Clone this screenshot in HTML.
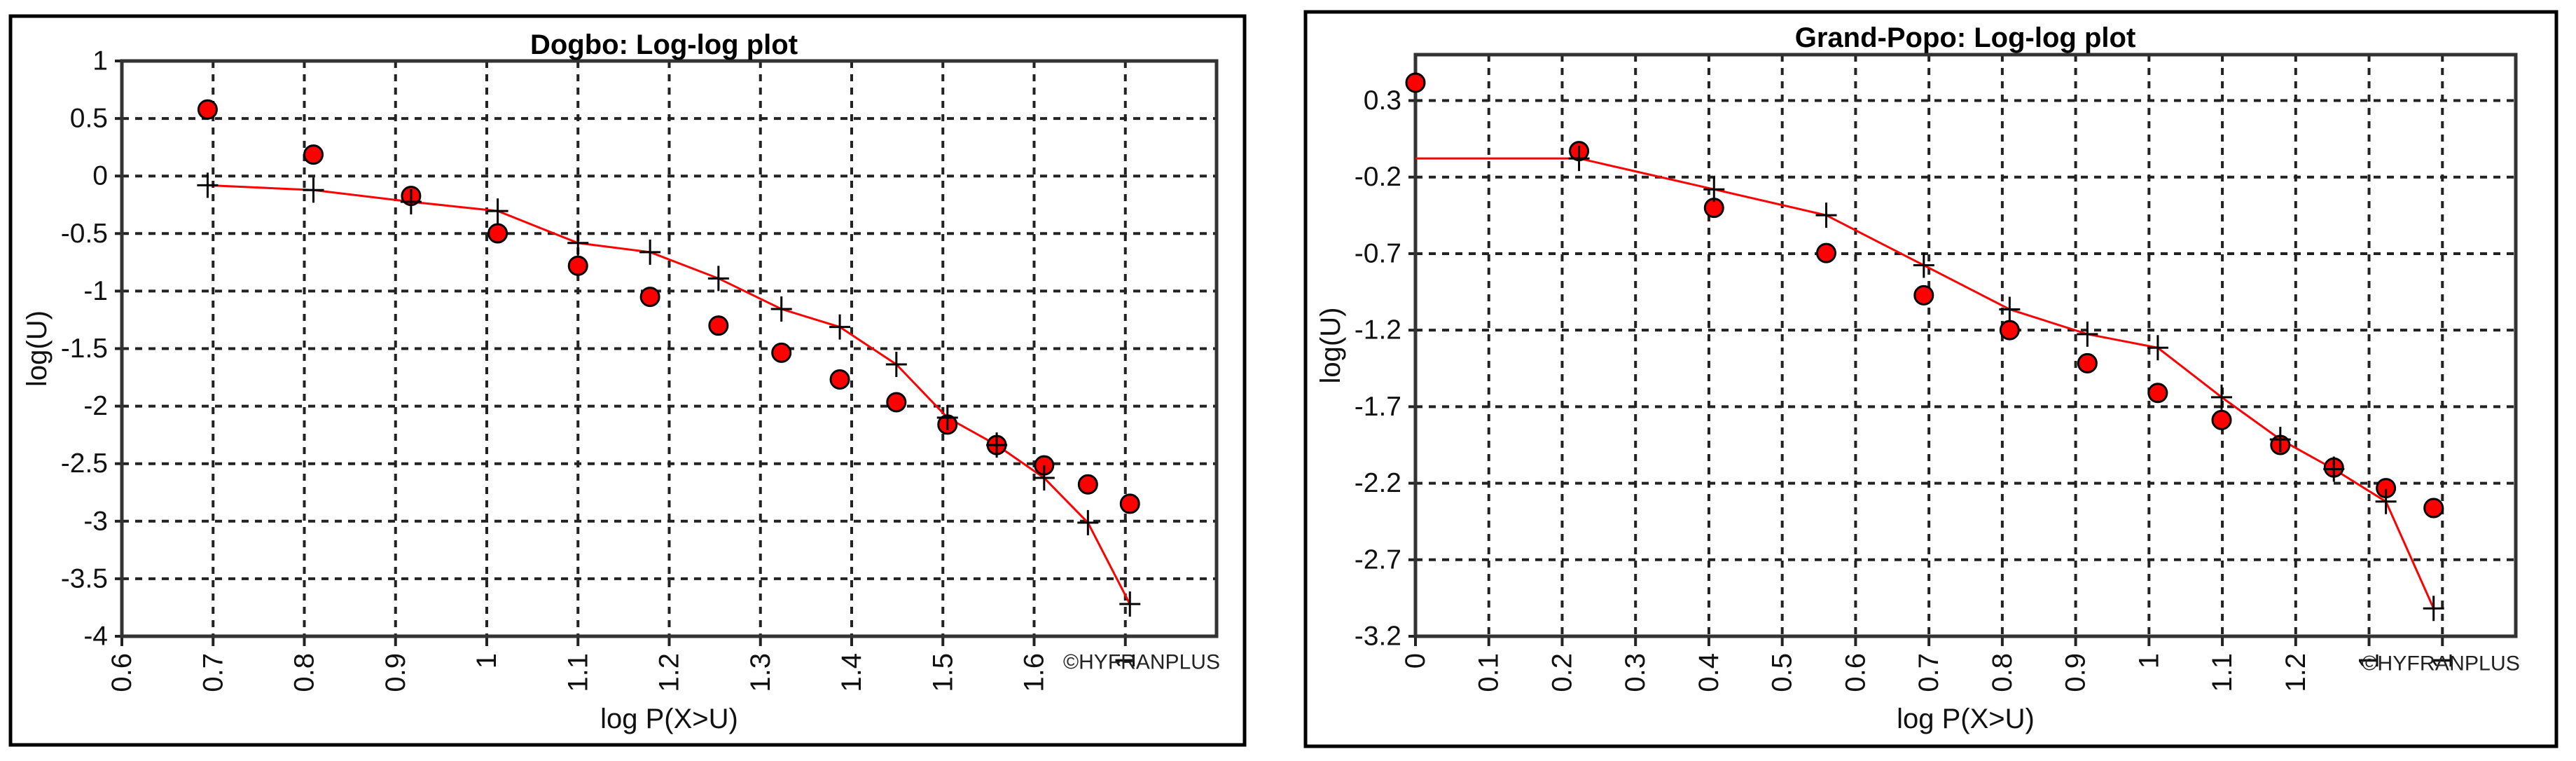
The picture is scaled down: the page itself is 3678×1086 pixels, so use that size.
<!DOCTYPE html>
<html><head><meta charset="utf-8"><style>
html,body{margin:0;padding:0;background:#fff;}
svg{display:block;font-family:"Liberation Sans",Arial,sans-serif;}
</style></head><body>
<svg id="svg" width="3678" height="1086" viewBox="0 0 3678 1086" xmlns="http://www.w3.org/2000/svg"></svg>
<script>
// Dogbo data
const dogboX = [0.694,0.81,0.917,1.012,1.1,1.179,1.254,1.323,1.387,1.449,1.505,1.559,1.611,1.659,1.705];
const dogboObs = [0.578,0.186,-0.173,-0.498,-0.78,-1.05,-1.30,-1.536,-1.768,-1.966,-2.16,-2.338,-2.515,-2.68,-2.848];
const dogboFit = [-0.08,-0.122,-0.224,-0.304,-0.582,-0.662,-0.89,-1.156,-1.312,-1.637,-2.10,-2.338,-2.624,-3.013,-3.72];
const dogboXTicks = [0.6,0.7,0.8,0.9,1.0,1.1,1.2,1.3,1.4,1.5,1.6,1.7];
const dogboXLabels = ["0.6","0.7","0.8","0.9","1","1.1","1.2","1.3","1.4","1.5","1.6","1"];
const dogboYTicks = [1,0.5,0,-0.5,-1,-1.5,-2,-2.5,-3,-3.5,-4];
const dogboYLabels = ["1","0.5","0","-0.5","-1","-1.5","-2","-2.5","-3","-3.5","-4"];
// Grand-Popo data
const popoX = [0,0.223,0.407,0.560,0.693,0.810,0.916,1.012,1.099,1.179,1.252,1.323,1.388];
const popoObs = [0.417,-0.03,-0.401,-0.696,-0.972,-1.20,-1.416,-1.61,-1.787,-1.95,-2.098,-2.232,-2.362];
const popoFit = [-0.078,-0.078,-0.28,-0.449,-0.776,-1.064,-1.226,-1.315,-1.638,-1.914,-2.108,-2.32,-3.018];
const popoXTicks = [0,0.1,0.2,0.3,0.4,0.5,0.6,0.7,0.8,0.9,1.0,1.1,1.2,1.3,1.4];
const popoXLabels = ["0","0.1","0.2","0.3","0.4","0.5","0.6","0.7","0.8","0.9","1","1.1","1.2","1","1"];
const popoYTicks = [0.3,-0.2,-0.7,-1.2,-1.7,-2.2,-2.7,-3.2];
const popoYLabels = ["0.3","-0.2","-0.7","-1.2","-1.7","-2.2","-2.7","-3.2"];

const NS="http://www.w3.org/2000/svg";
const svg=document.getElementById('svg');
function mk(tag,attrs,parent){const e=document.createElementNS(NS,tag);for(const k in attrs)e.setAttribute(k,attrs[k]);(parent||svg).appendChild(e);return e;}

function chart(cfg){
  const g=mk('g',{});
  
  
  const fr=mk('rect',{x:cfg.frame[0],y:cfg.frame[1],width:cfg.frame[2]-cfg.frame[0],height:cfg.frame[3]-cfg.frame[1],fill:'#fff',stroke:'#000','stroke-width':5},g);
  
  
  const [L,T,R,B]=cfg.plot;
  const sx=v=>L+(v-cfg.xd[0])/(cfg.xd[1]-cfg.xd[0])*(R-L);
  const sy=v=>T+(cfg.yd[1]-v)/(cfg.yd[1]-cfg.yd[0])*(B-T);
  cfg.xt.forEach((v,i)=>{
    const x=sx(v);
    if(Math.abs(x-L)>3){
      const gl=mk('line',{x1:x,y1:T,x2:x,y2:B,stroke:'#222','stroke-width':4,'stroke-dasharray':'10 9'},g);
      
      
    }
    mk('line',{x1:x,y1:B,x2:x,y2:B+14,stroke:'#222','stroke-width':4},g);
    const t=mk('text',{x:0,y:0,transform:`translate(${x},${B+24}) rotate(-90)`,'text-anchor':'end','dominant-baseline':'central','font-size':40,fill:'#111'},g);
    t.textContent=cfg.xl[i];
    
    
  });
  cfg.yt.forEach((v,i)=>{
    const y=sy(v);
    if(Math.abs(y-T)>3&&Math.abs(y-B)>3){
      const gl=mk('line',{x1:L,y1:y,x2:R,y2:y,stroke:'#222','stroke-width':4,'stroke-dasharray':'10 9'},g);
      
      
    }
    mk('line',{x1:L-10,y1:y,x2:L,y2:y,stroke:'#222','stroke-width':4},g);
    const t=mk('text',{x:L-20,y:y,'text-anchor':'end','dominant-baseline':'central','font-size':39,fill:'#111'},g);
    t.textContent=cfg.yl[i];
    
    
  });
  const pa=mk('rect',{x:L,y:T,width:R-L,height:B-T,fill:'none',stroke:'#333','stroke-width':5},g);
  
  
  const pts=cfg.x.map((v,i)=>sx(v)+','+sy(cfg.fit[i])).join(' ');
  const pl=mk('polyline',{points:pts,fill:'none',stroke:'#ff0000','stroke-width':3},g);
  
  
  cfg.x.forEach((v,i)=>{
    const c=mk('circle',{cx:sx(v),cy:sy(cfg.obs[i]),r:13,fill:'#ff0000',stroke:'#000','stroke-width':3},g);
    
    
  });
  cfg.x.forEach((v,i)=>{
    if(cfg.skipFirstCross&&i===0)return;
    const x=sx(v),y=sy(cfg.fit[i]);
    const p=mk('path',{d:`M${x-15},${y}H${x+15}M${x},${y-18}V${y+18}`,stroke:'#000','stroke-width':3,fill:'none'},g);
    
    
  });
  const tt=mk('text',{x:cfg.titleX,y:cfg.titleY,'text-anchor':'middle','dominant-baseline':'central','font-size':40,'font-weight':'bold',fill:'#000'},g);
  tt.textContent=cfg.title;
  
  
  const xt=mk('text',{x:(L+R)/2,y:1026,'text-anchor':'middle','dominant-baseline':'central','font-size':40,fill:'#111'},g);
  xt.textContent='log P(X>U)';
  
  
  const yt=mk('text',{x:0,y:0,transform:`translate(${cfg.yTitleX},${(T+B)/2}) rotate(-90)`,'text-anchor':'middle','dominant-baseline':'central','font-size':40,fill:'#111'},g);
  yt.textContent='log(U)';
  
  
  const wm=mk('text',{x:cfg.wm[0],y:cfg.wm[1],'text-anchor':'start','dominant-baseline':'central','font-size':30,fill:'#222',textLength:cfg.wm[2]-cfg.wm[0],lengthAdjust:'spacingAndGlyphs'},g);
  wm.textContent='©HYFRANPLUS';
  
  
}

chart({name:'dogbo-chart',frame:[15,23,1777,1063],plot:[174,87,1737,908],xd:[0.6,1.8],yd:[-4,1],
  x:dogboX,obs:dogboObs,fit:dogboFit,xt:dogboXTicks,xl:dogboXLabels,yt:dogboYTicks,yl:dogboYLabels,
  title:'Dogbo: Log-log plot',titleX:948,titleY:64,yTitleX:53,wm:[1518,945,1742]});
chart({name:'grand-popo-chart',frame:[1864,17,3650,1065],plot:[2021,78,3592,908],xd:[0,1.5],yd:[-3.2,0.6],
  x:popoX,obs:popoObs,fit:popoFit,xt:popoXTicks,xl:popoXLabels,yt:popoYTicks,yl:popoYLabels,skipFirstCross:true,
  title:'Grand-Popo: Log-log plot',titleX:2806,titleY:54,yTitleX:1900,wm:[3372,947,3598]});
</script>
</body></html>
